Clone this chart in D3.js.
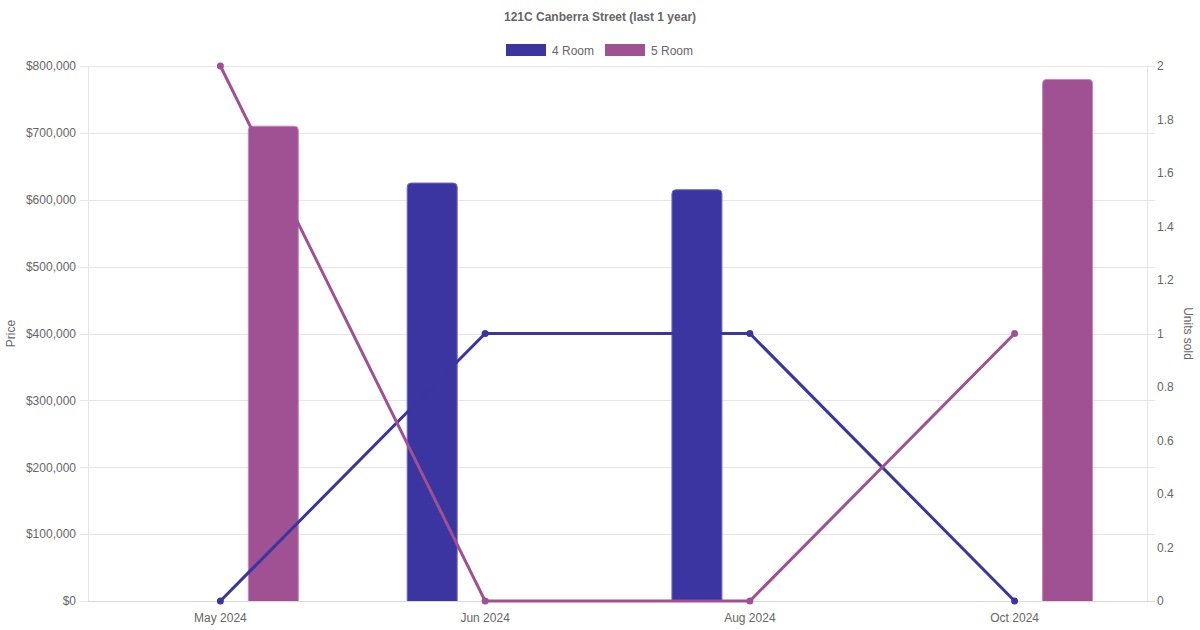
<!DOCTYPE html>
<html>
<head>
<meta charset="utf-8">
<script src="https://cdn.jsdelivr.net/npm/d3@7"></script>
<style>
  html, body { margin: 0; padding: 0; background: #fff; }
  svg { display: block; font-family: "Liberation Sans", Arial, Helvetica, sans-serif; }
</style>
</head>
<body>
<div id="chart"></div>
<script>
'use strict';

// chart data
const months = ["May 2024", "Jun 2024", "Aug 2024", "Oct 2024"];
const seriesNames = ["4 Room", "5 Room"];
const seriesColors = ["#3a35a0", "#a05193"];
const borderColors = ["#6d69c0", "#c48ab9"];
// average price per month (null = no sale)
const price4Room = [null, 625000, 615000, null];
const price5Room = [710000, null, null, 780000];
// units sold per month
const units4Room = [0, 1, 1, 0];
const units5Room = [2, 0, 0, 1];
const priceTicks = [0, 100000, 200000, 300000, 400000, 500000, 600000, 700000, 800000];
const unitTicks = [0, 0.2, 0.4, 0.6, 0.8, 1, 1.2, 1.4, 1.6, 1.8, 2];

{ // start scope

const width = 1200, height = 630;
const margin = { top: 66, right: 53, bottom: 29, left: 88 };
const innerW = width - margin.left - margin.right;
const innerH = height - margin.top - margin.bottom;
const textColor = "#666";
const gridColor = "#e5e5e5";

const svg = d3.select("#chart").append("svg")
    .attr("width", width)
    .attr("height", height);

// title
svg.append("text")
    .attr("x", width / 2).attr("y", 21)
    .attr("text-anchor", "middle")
    .attr("font-size", 12).attr("font-weight", "bold")
    .attr("fill", textColor)
    .text("121C Canberra Street (last 1 year)");

// legend
const legendX = [506, 605];
seriesNames.forEach((name, i) => {
    const g = svg.append("g").attr("transform", `translate(${legendX[i]},44)`);
    g.append("rect").attr("width", 40).attr("height", 12).attr("fill", seriesColors[i]);
    g.append("text").attr("x", 46).attr("y", 10.5)
        .attr("font-size", 12).attr("fill", textColor).text(name);
});

const plot = svg.append("g").attr("transform", `translate(${margin.left},${margin.top})`);

const x = d3.scaleBand().domain(months).range([0, innerW]);
const yPrice = d3.scaleLinear().domain([0, 800000]).range([innerH, 0]);
const yUnits = d3.scaleLinear().domain([0, 2]).range([innerH, 0]);
// slots for the two bar series within each month
const xSub = d3.scaleBand().domain(seriesNames).range([0, x.bandwidth()]).paddingInner(0).paddingOuter(0.25);
const barW = Math.min(50, xSub.bandwidth() * 0.9);

// horizontal grid lines (with tick stubs on both sides)
plot.append("g").selectAll("line").data(priceTicks).enter().append("line")
    .attr("x1", -8).attr("x2", innerW + 8)
    .attr("y1", d => Math.round(yPrice(d)) + 0.5).attr("y2", d => Math.round(yPrice(d)) + 0.5)
    .attr("stroke", gridColor).attr("stroke-width", 1);

// left axis
const leftAxis = plot.append("g")
    .call(d3.axisLeft(yPrice).tickValues(priceTicks).tickSize(0).tickPadding(12)
        .tickFormat(d => "$" + d3.format(",")(d)));
leftAxis.select(".domain").remove();
leftAxis.selectAll("text").attr("font-size", 12).attr("fill", textColor).attr("font-family", null);

// right axis
const rightAxis = plot.append("g").attr("transform", `translate(${innerW},0)`)
    .call(d3.axisRight(yUnits).tickValues(unitTicks).tickSize(0).tickPadding(10)
        .tickFormat(d => d3.format("")(+d.toFixed(1))));
rightAxis.select(".domain").remove();
rightAxis.selectAll("text").attr("font-size", 12).attr("fill", textColor).attr("font-family", null);

// bottom axis
const bottomAxis = plot.append("g").attr("transform", `translate(0,${innerH})`)
    .call(d3.axisBottom(x).tickSize(0).tickPadding(12));
bottomAxis.select(".domain").remove();
bottomAxis.selectAll("text").attr("font-size", 12).attr("fill", textColor).attr("font-family", null);

// axis border lines
plot.append("line").attr("x1", 0.5).attr("x2", 0.5).attr("y1", 0).attr("y2", innerH)
    .attr("stroke", gridColor);
plot.append("line").attr("x1", innerW + 0.5).attr("x2", innerW + 0.5).attr("y1", 0).attr("y2", innerH)
    .attr("stroke", gridColor);
plot.append("line").attr("x1", 0).attr("x2", innerW + 8)
    .attr("y1", innerH + 0.5).attr("y2", innerH + 0.5)
    .attr("stroke", "#d9d9d9");

// axis titles
svg.append("text")
    .attr("transform", `translate(15,${margin.top + innerH / 2}) rotate(-90)`)
    .attr("text-anchor", "middle").attr("font-size", 12).attr("fill", textColor)
    .text("Price");
svg.append("text")
    .attr("transform", `translate(${width - 16},${margin.top + innerH / 2}) rotate(90)`)
    .attr("text-anchor", "middle").attr("font-size", 12).attr("fill", textColor)
    .text("Units sold");

// price bars with slightly rounded tops
const priceSeries = [price4Room, price5Room];
const r = 4;
function topRoundedBar(x0, y0, w, h) {
    return `M${x0},${y0 + h}V${y0 + r}Q${x0},${y0} ${x0 + r},${y0}H${x0 + w - r}Q${x0 + w},${y0} ${x0 + w},${y0 + r}V${y0 + h}`;
}
priceSeries.forEach((vals, s) => {
    const data = vals.map((v, i) => ({ month: months[i], value: v })).filter(d => d.value !== null);
    plot.append("g").selectAll("path").data(data).enter().append("path")
        .attr("d", d => {
            const cx = x(d.month) + xSub(seriesNames[s]) + xSub.bandwidth() / 2;
            const y0 = yPrice(d.value);
            return topRoundedBar(cx - barW / 2, y0, barW, innerH - y0);
        })
        .attr("fill", seriesColors[s])
        .attr("stroke", borderColors[s])
        .attr("stroke-width", 1);
});

// unit lines (drawn on top of bars)
const unitSeries = [units4Room, units5Room];
const line = d3.line()
    .x((d, i) => x(months[i]) + x.bandwidth() / 2)
    .y(d => yUnits(d));
unitSeries.forEach((vals, s) => {
    plot.append("path").datum(vals)
        .attr("d", line)
        .attr("fill", "none")
        .attr("stroke", seriesColors[s])
        .attr("stroke-width", 3);
    plot.append("g").selectAll("circle").data(vals).enter().append("circle")
        .attr("cx", (d, i) => x(months[i]) + x.bandwidth() / 2)
        .attr("cy", d => yUnits(d))
        .attr("r", 3.5)
        .attr("fill", seriesColors[s]);
});

} // end scope
</script>
</body>
</html>
